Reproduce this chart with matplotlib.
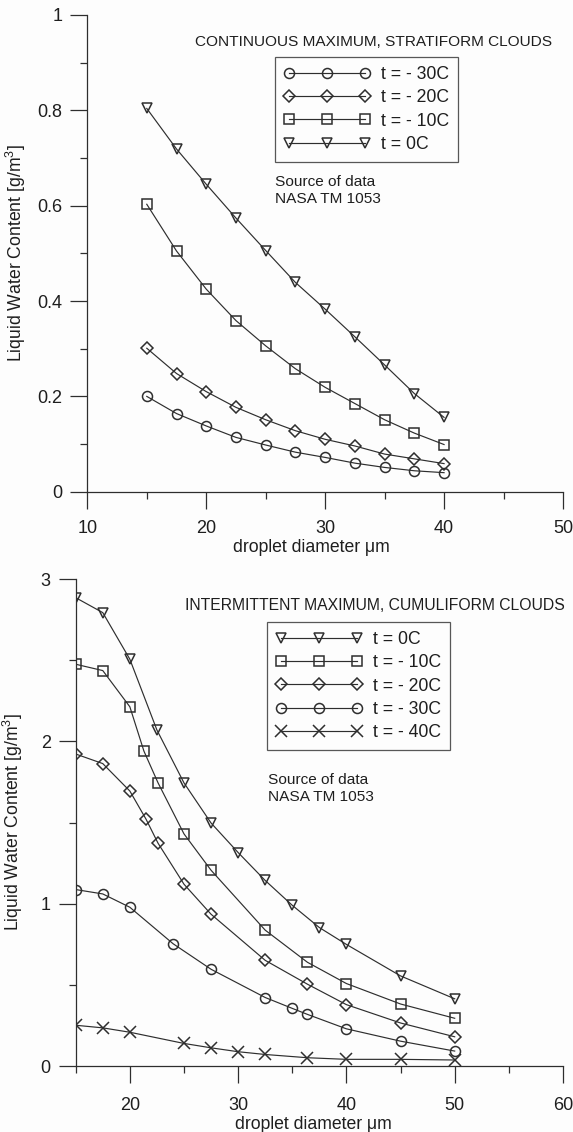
import matplotlib
matplotlib.use("Agg")
import matplotlib.pyplot as plt
from matplotlib.ticker import FixedLocator, FuncFormatter

plt.rcParams['font.family'] = ['Liberation Sans', 'DejaVu Sans']
plt.rcParams['mathtext.fontset'] = 'custom'
plt.rcParams['mathtext.rm'] = 'Liberation Sans'
plt.rcParams['mathtext.it'] = 'Liberation Sans'

# --- Continuous maximum, stratiform clouds ---
strat_diam = [15, 17.5, 20, 22.5, 25, 27.5, 30, 32.5, 35, 37.5, 40]
strat_m30 = [0.200, 0.164, 0.138, 0.114, 0.098, 0.083, 0.072, 0.060, 0.051, 0.044, 0.040]
strat_m20 = [0.301, 0.248, 0.210, 0.177, 0.151, 0.128, 0.110, 0.096, 0.079, 0.069, 0.059]
strat_m10 = [0.603, 0.505, 0.425, 0.359, 0.306, 0.258, 0.219, 0.185, 0.151, 0.123, 0.099]
strat_0 = [0.804, 0.719, 0.645, 0.574, 0.506, 0.439, 0.383, 0.325, 0.266, 0.206, 0.156]

# --- Intermittent maximum, cumuliform clouds ---
cum_diam_0 = [15, 17.5, 20, 22.5, 25, 27.5, 30, 32.5, 35, 37.5, 40, 45, 50]
cum_0 = [2.885, 2.793, 2.506, 2.07, 1.744, 1.497, 1.315, 1.143, 0.990, 0.853, 0.749, 0.555, 0.414]
cum_diam_m10 = [15, 17.5, 20, 21.3, 22.6, 25, 27.5, 32.5, 36.4, 40, 45, 50]
cum_m10 = [2.475, 2.436, 2.213, 1.94, 1.745, 1.43, 1.206, 0.837, 0.639, 0.508, 0.382, 0.294]
cum_diam_m20 = [15, 17.5, 20, 21.5, 22.6, 25, 27.5, 32.5, 36.4, 40, 45, 50]
cum_m20 = [1.922, 1.863, 1.694, 1.52, 1.373, 1.12, 0.935, 0.651, 0.504, 0.378, 0.265, 0.180]
cum_diam_m30 = [15, 17.5, 20, 24, 27.5, 32.5, 35, 36.4, 40, 45, 50]
cum_m30 = [1.087, 1.06, 0.978, 0.753, 0.596, 0.422, 0.355, 0.318, 0.229, 0.153, 0.092]
cum_diam_m40 = [15, 17.5, 20, 25, 27.5, 30, 32.5, 36.4, 40, 45, 50]
cum_m40 = [0.251, 0.235, 0.208, 0.139, 0.112, 0.088, 0.071, 0.051, 0.041, 0.041, 0.037]

INK = '#2e2e2e'
TXT = '#1e1e1e'

fig = plt.figure(figsize=(5.73, 11.32), dpi=100, facecolor='#fdfdfd')

ax1 = fig.add_axes([0.1524, 0.5656, 0.9825 - 0.1524, 0.98675 - 0.5656])
ax2 = fig.add_axes([0.1321, 0.0583, 0.9825 - 0.1321, 0.4885 - 0.0583])

line_kw = dict(color=INK, lw=0.85, mfc='none', mec=INK, mew=1.1)


def style_axes(ax, xmaj, xmin, ymaj, ymin, xlim, ylim):
    ax.set_facecolor('none')
    ax.set_xlim(*xlim)
    ax.set_ylim(*ylim)
    for s in ('top', 'right'):
        ax.spines[s].set_visible(False)
    for s in ('left', 'bottom'):
        ax.spines[s].set_color(INK)
        ax.spines[s].set_linewidth(0.9)
    ax.xaxis.set_major_locator(FixedLocator(xmaj))
    ax.xaxis.set_minor_locator(FixedLocator(xmin))
    ax.yaxis.set_major_locator(FixedLocator(ymaj))
    ax.yaxis.set_minor_locator(FixedLocator(ymin))
    fmt = FuncFormatter(lambda v, p: f"{v:g}")
    ax.xaxis.set_major_formatter(fmt)
    ax.yaxis.set_major_formatter(fmt)
    ax.tick_params(which='major', direction='out', length=12, width=0.9,
                   color=INK, labelsize=13, labelcolor=TXT)
    ax.tick_params(which='minor', direction='out', length=5, width=0.9, color=INK)
    ax.tick_params(axis='y', which='major', pad=6)
    for sp in ax.spines.values():
        sp.set_clip_on(False)


# Upper panel
ax1.plot(strat_diam, strat_m30, marker='o', ms=7.2, label='t = - 30C', **line_kw)
ax1.plot(strat_diam, strat_m20, marker='D', ms=6.0, label='t = - 20C', **line_kw)
ax1.plot(strat_diam, strat_m10, marker='s', ms=7.2, label='t = - 10C', **line_kw)
ax1.plot(strat_diam, strat_0, marker='v', ms=7.6, label='t = 0C', **line_kw)
style_axes(ax1, [10, 20, 30, 40, 50], [15, 25, 35, 45],
           [0, 0.2, 0.4, 0.6, 0.8, 1.0], [0.1, 0.3, 0.5, 0.7, 0.9],
           (10, 50), (0, 1))
ax1.tick_params(axis='x', which='major', pad=8)
ax1.set_xlabel('droplet diameter \u03bcm', fontsize=12.7, color=TXT)
ax1.xaxis.set_label_coords(0.47, -0.1)
ax1.set_ylabel('Liquid Water Content [g/m$^3$]', fontsize=12.7, color=TXT)
ax1.yaxis.set_label_coords(-0.125, 0.5)

fig.text(195 / 573, 1 - 42 / 1132, 'CONTINUOUS MAXIMUM, STRATIFORM CLOUDS',
         fontsize=11.1, color=TXT, ha='left', va='center')
fig.text(275 / 573, 1 - 181.7 / 1132, 'Source of data', fontsize=11.1,
         color=TXT, ha='left', va='center')
fig.text(275 / 573, 1 - 199.3 / 1132, 'NASA TM 1053', fontsize=11.1,
         color=TXT, ha='left', va='center')

leg_kw = dict(loc='upper left', numpoints=3, handlelength=4.9, handletextpad=0.6,
              labelspacing=0.36, borderpad=0.5, borderaxespad=0, fontsize=12.7,
              frameon=True, fancybox=False, edgecolor=INK, facecolor='none',
              labelcolor=TXT)
leg1 = ax1.legend(bbox_to_anchor=(275 / 573, 1 - 57 / 1132),
                  bbox_transform=fig.transFigure, **leg_kw)
leg1.get_frame().set_linewidth(0.9)

# Lower panel
ax2.plot(cum_diam_0, cum_0, marker='v', ms=7.6, label='t = 0C', **line_kw)
ax2.plot(cum_diam_m10, cum_m10, marker='s', ms=7.2, label='t = - 10C', **line_kw)
ax2.plot(cum_diam_m20, cum_m20, marker='D', ms=6.0, label='t = - 20C', **line_kw)
ax2.plot(cum_diam_m30, cum_m30, marker='o', ms=7.2, label='t = - 30C', **line_kw)
ax2.plot(cum_diam_m40, cum_m40, marker='x', ms=8.5, label='t = - 40C', **line_kw)
style_axes(ax2, [20, 30, 40, 50, 60], [15, 25, 35, 45, 55],
           [0, 1, 2, 3], [0.5, 1.5, 2.5], (15, 60), (0, 3))
ax2.tick_params(axis='x', which='major', pad=10)
ax2.set_xlabel('droplet diameter \u03bcm', fontsize=12.7, color=TXT)
ax2.xaxis.set_label_coords(0.487, -0.102)
ax2.set_ylabel('Liquid Water Content [g/m$^3$]', fontsize=12.7, color=TXT)
ax2.yaxis.set_label_coords(-0.105, 0.5)

fig.text(185 / 573, 1 - 606 / 1132, 'INTERMITTENT MAXIMUM, CUMULIFORM CLOUDS',
         fontsize=11.3, color=TXT, ha='left', va='center')
fig.text(268 / 573, 1 - 780 / 1132, 'Source of data', fontsize=11.1,
         color=TXT, ha='left', va='center')
fig.text(268 / 573, 1 - 797.3 / 1132, 'NASA TM 1053', fontsize=11.1,
         color=TXT, ha='left', va='center')

leg2 = ax2.legend(bbox_to_anchor=(267 / 573, 1 - 622 / 1132),
                  bbox_transform=fig.transFigure, **leg_kw)
leg2.get_frame().set_linewidth(0.9)

fig.savefig('out.png', dpi=100, facecolor=fig.get_facecolor())
